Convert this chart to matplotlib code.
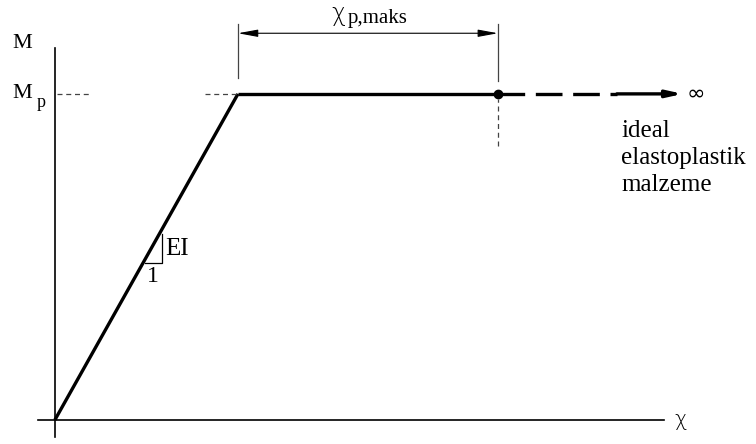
import matplotlib.pyplot as plt

plt.rcParams["font.family"] = ["Liberation Serif", "DejaVu Serif"]

# moment-curvature model (normalised: chi_y = 1, Mp = 1)
chi_elastic = [0.0, 1.0]
m_elastic = [0.0, 1.0]
chi_plastic = [1.0, 2.42]
m_plastic = [1.0, 1.0]
chi_ext = [2.42, 3.07]
chi_arrow = [3.07, 3.43]
chi_max = 2.42
mp_level = 1.0

# slope triangle on the elastic branch
tri_chi = [0.49, 0.585, 0.585]
tri_m = [0.48, 0.48, 0.57]

material_lines = ["ideal", "elastoplastik", "malzeme"]

fig = plt.figure(figsize=(7.56, 4.44), dpi=100)
ax = fig.add_axes([0, 0, 1, 1])
ax.set_xlim(-0.30, 3.83)
ax.set_ylim(-0.074, 1.288)
ax.axis("off")

# axes
ax.plot([-0.093, 3.33], [0, 0], color="black", lw=1.2)
ax.plot([0, 0], [-0.052, 1.14], color="black", lw=1.2)
ax.text(-0.235, 1.155, "M", fontsize=16, ha="left", va="center")
ax.text(-0.235, mp_level, "M", fontsize=16, ha="left", va="center")
ax.text(-0.10, 0.975, "p", fontsize=13, ha="left", va="center")
ax.text(3.42, 0.0, "χ", family="DejaVu Sans", fontsize=15,
        ha="center", va="center", fontweight="light")

# curve
ax.plot(chi_elastic, m_elastic, color="black", lw=2.4, solid_capstyle="butt")
ax.plot(chi_plastic, m_plastic, color="black", lw=2.4, solid_capstyle="butt")
ax.plot(chi_ext, [mp_level, mp_level], color="black", lw=2.4,
        dashes=(8, 3.2), dash_capstyle="butt")
ax.annotate("", xy=(chi_arrow[1], mp_level), xytext=(chi_arrow[0], mp_level),
            arrowprops=dict(arrowstyle="-|>,head_length=0.9,head_width=0.2",
                            color="black", lw=2.4, shrinkA=0, shrinkB=0))
ax.plot([chi_max], [mp_level], "o", color="black", ms=6)
ax.text(3.5, mp_level, "∞", family="DejaVu Sans", fontsize=16,
        ha="center", va="center")

# Mp guide lines
ax.plot([0.01, 0.19], [mp_level, mp_level], color="#444444", lw=0.9, ls=(0, (4, 3)))
ax.plot([0.82, 1.0], [mp_level, mp_level], color="#444444", lw=0.9, ls=(0, (4, 3)))

# dimension for chi_p,maks
ax.plot([1.0, 1.0], [1.05, 1.215], color="#444444", lw=0.9)
ax.plot([chi_max, chi_max], [1.04, 1.215], color="#444444", lw=0.9)
ax.plot([chi_max, chi_max], [0.84, 0.985], color="#444444", lw=0.9, ls=(0, (4, 3)))
ax.annotate("", xy=(1.0, 1.186), xytext=(chi_max, 1.186),
            arrowprops=dict(arrowstyle="<|-|>,head_length=1.2,head_width=0.22",
                            color="black", lw=0.8, shrinkA=0, shrinkB=0))
ax.text(1.55, 1.245, "χ", family="DejaVu Sans", fontsize=17,
        ha="center", va="center", fontweight="light")
ax.text(1.6, 1.232, "p,maks", fontsize=15, ha="left", va="center")

# slope triangle
ax.plot(tri_chi, tri_m, color="black", lw=0.9)
ax.text(0.6, 0.525, "EI", fontsize=18, ha="left", va="center")
ax.text(0.535, 0.44, "1", fontsize=17, ha="center", va="center")

# material label
for i, line in enumerate(material_lines):
    ax.text(3.095, 0.885 - i * 0.083, line, fontsize=18, ha="left", va="center")

fig.savefig("out.png", dpi=100)
